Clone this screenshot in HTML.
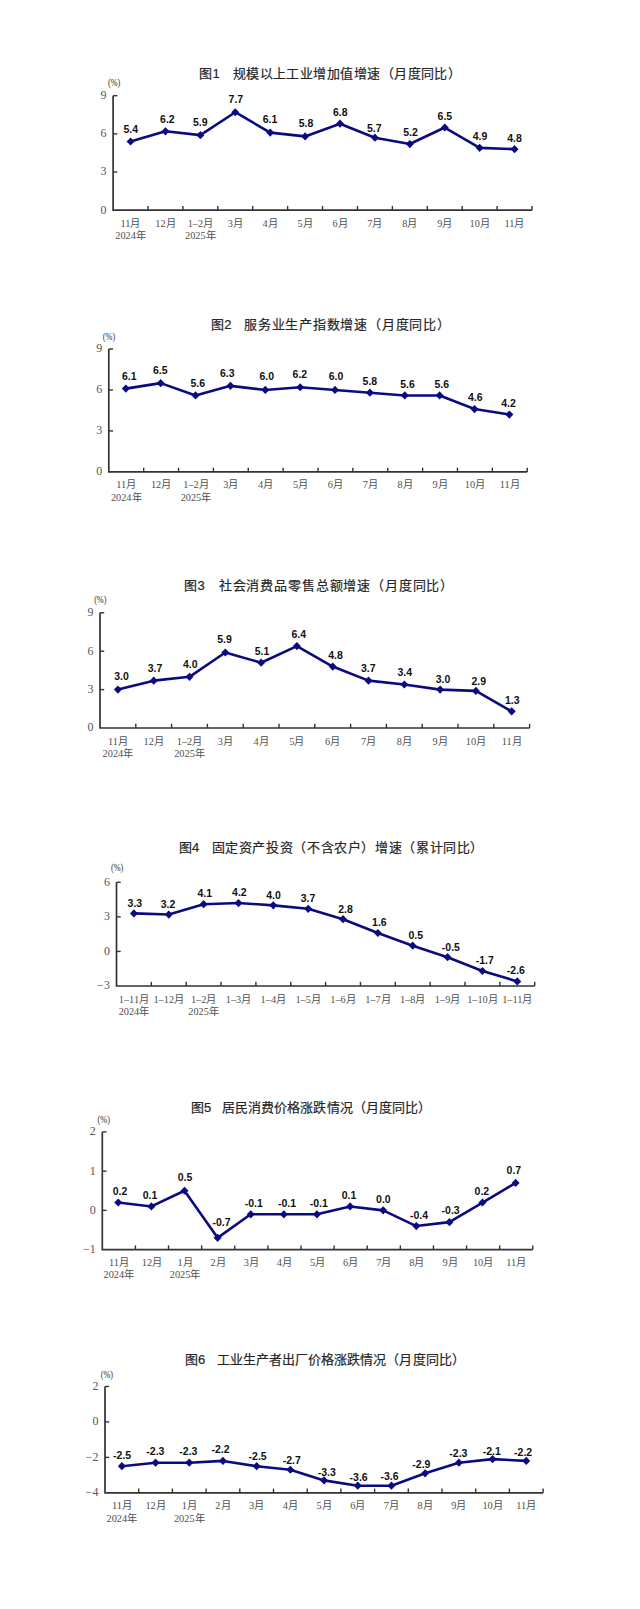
<!DOCTYPE html>
<html lang="zh-CN"><head><meta charset="utf-8"><title>charts</title>
<style>html,body{margin:0;padding:0;background:#fff;width:640px;height:1609px;overflow:hidden}svg{display:block}</style>
</head><body>
<svg width="640" height="1609" viewBox="0 0 640 1609">
<rect width="640" height="1609" fill="#fff"/>
<text x="199.40" y="77.80" font-family="'Liberation Sans', sans-serif" font-size="13" fill="#262626" stroke="#262626" stroke-width="0.2">图1</text>
<text x="232.60" y="77.80" font-family="'Liberation Sans', sans-serif" font-size="13" letter-spacing="0.46" fill="#262626" stroke="#262626" stroke-width="0.2">规模以上工业增加值增速（月度同比）</text>
<text x="114.20" y="86.30" text-anchor="middle" font-family="'Liberation Serif', serif" font-size="9.8" textLength="12.3" lengthAdjust="spacingAndGlyphs" fill="#555" stroke="#555" stroke-width="0.15">(%)</text>
<path d="M113.10 95.70V210.20H532.00" fill="none" stroke="#333333" stroke-width="1.7"/>
<text x="106.50" y="213.60" text-anchor="end" font-family="'Liberation Serif', serif" font-size="12" fill="#555555">0</text>
<path d="M113.10 172.03h4.2" stroke="#333333" stroke-width="1.4"/>
<text x="106.50" y="175.43" text-anchor="end" font-family="'Liberation Serif', serif" font-size="12" fill="#555555">3</text>
<path d="M113.10 133.87h4.2" stroke="#333333" stroke-width="1.4"/>
<text x="106.50" y="137.27" text-anchor="end" font-family="'Liberation Serif', serif" font-size="12" fill="#555555">6</text>
<path d="M113.10 95.70h4.2" stroke="#333333" stroke-width="1.4"/>
<text x="106.50" y="99.10" text-anchor="end" font-family="'Liberation Serif', serif" font-size="12" fill="#555555">9</text>
<path d="M148.01 210.20v-4.2" stroke="#333333" stroke-width="1.4"/>
<path d="M182.92 210.20v-4.2" stroke="#333333" stroke-width="1.4"/>
<path d="M217.82 210.20v-4.2" stroke="#333333" stroke-width="1.4"/>
<path d="M252.73 210.20v-4.2" stroke="#333333" stroke-width="1.4"/>
<path d="M287.64 210.20v-4.2" stroke="#333333" stroke-width="1.4"/>
<path d="M322.55 210.20v-4.2" stroke="#333333" stroke-width="1.4"/>
<path d="M357.46 210.20v-4.2" stroke="#333333" stroke-width="1.4"/>
<path d="M392.37 210.20v-4.2" stroke="#333333" stroke-width="1.4"/>
<path d="M427.27 210.20v-4.2" stroke="#333333" stroke-width="1.4"/>
<path d="M462.18 210.20v-4.2" stroke="#333333" stroke-width="1.4"/>
<path d="M497.09 210.20v-4.2" stroke="#333333" stroke-width="1.4"/>
<path d="M532.00 210.20v-4.2" stroke="#333333" stroke-width="1.4"/>
<text x="130.55" y="226.70" text-anchor="middle" font-family="'Liberation Serif', serif" font-size="10.3" fill="#505050">11月</text>
<text x="130.55" y="239.00" text-anchor="middle" font-family="'Liberation Serif', serif" font-size="10.3" fill="#505050">2024年</text>
<text x="165.46" y="226.70" text-anchor="middle" font-family="'Liberation Serif', serif" font-size="10.3" fill="#505050">12月</text>
<text x="200.37" y="226.70" text-anchor="middle" font-family="'Liberation Serif', serif" font-size="10.3" fill="#505050">1–2月</text>
<text x="200.37" y="239.00" text-anchor="middle" font-family="'Liberation Serif', serif" font-size="10.3" fill="#505050">2025年</text>
<text x="235.28" y="226.70" text-anchor="middle" font-family="'Liberation Serif', serif" font-size="10.3" fill="#505050">3月</text>
<text x="270.19" y="226.70" text-anchor="middle" font-family="'Liberation Serif', serif" font-size="10.3" fill="#505050">4月</text>
<text x="305.10" y="226.70" text-anchor="middle" font-family="'Liberation Serif', serif" font-size="10.3" fill="#505050">5月</text>
<text x="340.00" y="226.70" text-anchor="middle" font-family="'Liberation Serif', serif" font-size="10.3" fill="#505050">6月</text>
<text x="374.91" y="226.70" text-anchor="middle" font-family="'Liberation Serif', serif" font-size="10.3" fill="#505050">7月</text>
<text x="409.82" y="226.70" text-anchor="middle" font-family="'Liberation Serif', serif" font-size="10.3" fill="#505050">8月</text>
<text x="444.73" y="226.70" text-anchor="middle" font-family="'Liberation Serif', serif" font-size="10.3" fill="#505050">9月</text>
<text x="479.64" y="226.70" text-anchor="middle" font-family="'Liberation Serif', serif" font-size="10.3" fill="#505050">10月</text>
<text x="514.55" y="226.70" text-anchor="middle" font-family="'Liberation Serif', serif" font-size="10.3" fill="#505050">11月</text>
<path d="M130.55 141.50 L165.46 131.32 L200.37 135.14 L235.28 112.24 L270.19 132.59 L305.10 136.41 L340.00 123.69 L374.91 137.68 L409.82 144.04 L444.73 127.51 L479.64 147.86 L514.55 149.13" fill="none" stroke="#0b0b80" stroke-width="2.6" stroke-linejoin="round"/>
<path d="M130.55 137.40l4 4.1l-4 4.1l-4 -4.1z" fill="#0b0b80"/>
<path d="M165.46 127.22l4 4.1l-4 4.1l-4 -4.1z" fill="#0b0b80"/>
<path d="M200.37 131.04l4 4.1l-4 4.1l-4 -4.1z" fill="#0b0b80"/>
<path d="M235.28 108.14l4 4.1l-4 4.1l-4 -4.1z" fill="#0b0b80"/>
<path d="M270.19 128.49l4 4.1l-4 4.1l-4 -4.1z" fill="#0b0b80"/>
<path d="M305.10 132.31l4 4.1l-4 4.1l-4 -4.1z" fill="#0b0b80"/>
<path d="M340.00 119.59l4 4.1l-4 4.1l-4 -4.1z" fill="#0b0b80"/>
<path d="M374.91 133.58l4 4.1l-4 4.1l-4 -4.1z" fill="#0b0b80"/>
<path d="M409.82 139.94l4 4.1l-4 4.1l-4 -4.1z" fill="#0b0b80"/>
<path d="M444.73 123.41l4 4.1l-4 4.1l-4 -4.1z" fill="#0b0b80"/>
<path d="M479.64 143.76l4 4.1l-4 4.1l-4 -4.1z" fill="#0b0b80"/>
<path d="M514.55 145.03l4 4.1l-4 4.1l-4 -4.1z" fill="#0b0b80"/>
<text x="130.80" y="133.45" text-anchor="middle" font-family="'Liberation Sans', sans-serif" font-size="10.5" font-weight="bold" fill="#111">5.4</text>
<text x="167.40" y="122.60" text-anchor="middle" font-family="'Liberation Sans', sans-serif" font-size="10.5" font-weight="bold" fill="#111">6.2</text>
<text x="200.30" y="125.95" text-anchor="middle" font-family="'Liberation Sans', sans-serif" font-size="10.5" font-weight="bold" fill="#111">5.9</text>
<text x="235.90" y="103.10" text-anchor="middle" font-family="'Liberation Sans', sans-serif" font-size="10.5" font-weight="bold" fill="#111">7.7</text>
<text x="270.00" y="123.20" text-anchor="middle" font-family="'Liberation Sans', sans-serif" font-size="10.5" font-weight="bold" fill="#111">6.1</text>
<text x="306.10" y="126.95" text-anchor="middle" font-family="'Liberation Sans', sans-serif" font-size="10.5" font-weight="bold" fill="#111">5.8</text>
<text x="340.30" y="115.60" text-anchor="middle" font-family="'Liberation Sans', sans-serif" font-size="10.5" font-weight="bold" fill="#111">6.8</text>
<text x="374.20" y="131.60" text-anchor="middle" font-family="'Liberation Sans', sans-serif" font-size="10.5" font-weight="bold" fill="#111">5.7</text>
<text x="410.50" y="135.70" text-anchor="middle" font-family="'Liberation Sans', sans-serif" font-size="10.5" font-weight="bold" fill="#111">5.2</text>
<text x="444.90" y="119.95" text-anchor="middle" font-family="'Liberation Sans', sans-serif" font-size="10.5" font-weight="bold" fill="#111">6.5</text>
<text x="480.10" y="140.00" text-anchor="middle" font-family="'Liberation Sans', sans-serif" font-size="10.5" font-weight="bold" fill="#111">4.9</text>
<text x="514.50" y="141.90" text-anchor="middle" font-family="'Liberation Sans', sans-serif" font-size="10.5" font-weight="bold" fill="#111">4.8</text>
<text x="211.30" y="329.20" font-family="'Liberation Sans', sans-serif" font-size="13" fill="#262626" stroke="#262626" stroke-width="0.2">图2</text>
<text x="244.00" y="329.20" font-family="'Liberation Sans', sans-serif" font-size="13" letter-spacing="0.78" fill="#262626" stroke="#262626" stroke-width="0.2">服务业生产指数增速（月度同比）</text>
<text x="109.00" y="340.20" text-anchor="middle" font-family="'Liberation Serif', serif" font-size="9.8" textLength="12.3" lengthAdjust="spacingAndGlyphs" fill="#555" stroke="#555" stroke-width="0.15">(%)</text>
<path d="M108.80 349.00V471.90H527.20" fill="none" stroke="#333333" stroke-width="1.7"/>
<text x="102.20" y="475.30" text-anchor="end" font-family="'Liberation Serif', serif" font-size="12" fill="#555555">0</text>
<path d="M108.80 430.93h4.2" stroke="#333333" stroke-width="1.4"/>
<text x="102.20" y="434.33" text-anchor="end" font-family="'Liberation Serif', serif" font-size="12" fill="#555555">3</text>
<path d="M108.80 389.97h4.2" stroke="#333333" stroke-width="1.4"/>
<text x="102.20" y="393.37" text-anchor="end" font-family="'Liberation Serif', serif" font-size="12" fill="#555555">6</text>
<path d="M108.80 349.00h4.2" stroke="#333333" stroke-width="1.4"/>
<text x="102.20" y="352.40" text-anchor="end" font-family="'Liberation Serif', serif" font-size="12" fill="#555555">9</text>
<path d="M143.67 471.90v-4.2" stroke="#333333" stroke-width="1.4"/>
<path d="M178.53 471.90v-4.2" stroke="#333333" stroke-width="1.4"/>
<path d="M213.40 471.90v-4.2" stroke="#333333" stroke-width="1.4"/>
<path d="M248.27 471.90v-4.2" stroke="#333333" stroke-width="1.4"/>
<path d="M283.13 471.90v-4.2" stroke="#333333" stroke-width="1.4"/>
<path d="M318.00 471.90v-4.2" stroke="#333333" stroke-width="1.4"/>
<path d="M352.87 471.90v-4.2" stroke="#333333" stroke-width="1.4"/>
<path d="M387.73 471.90v-4.2" stroke="#333333" stroke-width="1.4"/>
<path d="M422.60 471.90v-4.2" stroke="#333333" stroke-width="1.4"/>
<path d="M457.47 471.90v-4.2" stroke="#333333" stroke-width="1.4"/>
<path d="M492.33 471.90v-4.2" stroke="#333333" stroke-width="1.4"/>
<path d="M527.20 471.90v-4.2" stroke="#333333" stroke-width="1.4"/>
<text x="126.23" y="488.40" text-anchor="middle" font-family="'Liberation Serif', serif" font-size="10.3" fill="#505050">11月</text>
<text x="126.23" y="500.70" text-anchor="middle" font-family="'Liberation Serif', serif" font-size="10.3" fill="#505050">2024年</text>
<text x="161.10" y="488.40" text-anchor="middle" font-family="'Liberation Serif', serif" font-size="10.3" fill="#505050">12月</text>
<text x="195.97" y="488.40" text-anchor="middle" font-family="'Liberation Serif', serif" font-size="10.3" fill="#505050">1–2月</text>
<text x="195.97" y="500.70" text-anchor="middle" font-family="'Liberation Serif', serif" font-size="10.3" fill="#505050">2025年</text>
<text x="230.83" y="488.40" text-anchor="middle" font-family="'Liberation Serif', serif" font-size="10.3" fill="#505050">3月</text>
<text x="265.70" y="488.40" text-anchor="middle" font-family="'Liberation Serif', serif" font-size="10.3" fill="#505050">4月</text>
<text x="300.57" y="488.40" text-anchor="middle" font-family="'Liberation Serif', serif" font-size="10.3" fill="#505050">5月</text>
<text x="335.43" y="488.40" text-anchor="middle" font-family="'Liberation Serif', serif" font-size="10.3" fill="#505050">6月</text>
<text x="370.30" y="488.40" text-anchor="middle" font-family="'Liberation Serif', serif" font-size="10.3" fill="#505050">7月</text>
<text x="405.17" y="488.40" text-anchor="middle" font-family="'Liberation Serif', serif" font-size="10.3" fill="#505050">8月</text>
<text x="440.03" y="488.40" text-anchor="middle" font-family="'Liberation Serif', serif" font-size="10.3" fill="#505050">9月</text>
<text x="474.90" y="488.40" text-anchor="middle" font-family="'Liberation Serif', serif" font-size="10.3" fill="#505050">10月</text>
<text x="509.77" y="488.40" text-anchor="middle" font-family="'Liberation Serif', serif" font-size="10.3" fill="#505050">11月</text>
<path d="M125.83 388.60 L160.70 383.14 L195.57 395.43 L230.43 385.87 L265.30 389.97 L300.17 387.24 L335.03 389.97 L369.90 392.70 L404.77 395.43 L439.63 395.43 L474.50 409.08 L509.37 414.55" fill="none" stroke="#0b0b80" stroke-width="2.6" stroke-linejoin="round"/>
<path d="M125.83 384.50l4 4.1l-4 4.1l-4 -4.1z" fill="#0b0b80"/>
<path d="M160.70 379.04l4 4.1l-4 4.1l-4 -4.1z" fill="#0b0b80"/>
<path d="M195.57 391.33l4 4.1l-4 4.1l-4 -4.1z" fill="#0b0b80"/>
<path d="M230.43 381.77l4 4.1l-4 4.1l-4 -4.1z" fill="#0b0b80"/>
<path d="M265.30 385.87l4 4.1l-4 4.1l-4 -4.1z" fill="#0b0b80"/>
<path d="M300.17 383.14l4 4.1l-4 4.1l-4 -4.1z" fill="#0b0b80"/>
<path d="M335.03 385.87l4 4.1l-4 4.1l-4 -4.1z" fill="#0b0b80"/>
<path d="M369.90 388.60l4 4.1l-4 4.1l-4 -4.1z" fill="#0b0b80"/>
<path d="M404.77 391.33l4 4.1l-4 4.1l-4 -4.1z" fill="#0b0b80"/>
<path d="M439.63 391.33l4 4.1l-4 4.1l-4 -4.1z" fill="#0b0b80"/>
<path d="M474.50 404.98l4 4.1l-4 4.1l-4 -4.1z" fill="#0b0b80"/>
<path d="M509.37 410.45l4 4.1l-4 4.1l-4 -4.1z" fill="#0b0b80"/>
<text x="129.35" y="379.95" text-anchor="middle" font-family="'Liberation Sans', sans-serif" font-size="10.5" font-weight="bold" fill="#111">6.1</text>
<text x="160.30" y="374.30" text-anchor="middle" font-family="'Liberation Sans', sans-serif" font-size="10.5" font-weight="bold" fill="#111">6.5</text>
<text x="197.80" y="387.45" text-anchor="middle" font-family="'Liberation Sans', sans-serif" font-size="10.5" font-weight="bold" fill="#111">5.6</text>
<text x="227.20" y="376.80" text-anchor="middle" font-family="'Liberation Sans', sans-serif" font-size="10.5" font-weight="bold" fill="#111">6.3</text>
<text x="266.70" y="380.00" text-anchor="middle" font-family="'Liberation Sans', sans-serif" font-size="10.5" font-weight="bold" fill="#111">6.0</text>
<text x="299.90" y="378.10" text-anchor="middle" font-family="'Liberation Sans', sans-serif" font-size="10.5" font-weight="bold" fill="#111">6.2</text>
<text x="336.00" y="380.30" text-anchor="middle" font-family="'Liberation Sans', sans-serif" font-size="10.5" font-weight="bold" fill="#111">6.0</text>
<text x="369.90" y="384.60" text-anchor="middle" font-family="'Liberation Sans', sans-serif" font-size="10.5" font-weight="bold" fill="#111">5.8</text>
<text x="407.60" y="387.80" text-anchor="middle" font-family="'Liberation Sans', sans-serif" font-size="10.5" font-weight="bold" fill="#111">5.6</text>
<text x="441.80" y="387.60" text-anchor="middle" font-family="'Liberation Sans', sans-serif" font-size="10.5" font-weight="bold" fill="#111">5.6</text>
<text x="475.30" y="400.90" text-anchor="middle" font-family="'Liberation Sans', sans-serif" font-size="10.5" font-weight="bold" fill="#111">4.6</text>
<text x="508.50" y="407.45" text-anchor="middle" font-family="'Liberation Sans', sans-serif" font-size="10.5" font-weight="bold" fill="#111">4.2</text>
<text x="184.40" y="589.85" font-family="'Liberation Sans', sans-serif" font-size="13" fill="#262626" stroke="#262626" stroke-width="0.2">图3</text>
<text x="218.80" y="589.85" font-family="'Liberation Sans', sans-serif" font-size="13" letter-spacing="0.84" fill="#262626" stroke="#262626" stroke-width="0.2">社会消费品零售总额增速（月度同比）</text>
<text x="100.30" y="603.30" text-anchor="middle" font-family="'Liberation Serif', serif" font-size="9.8" textLength="12.3" lengthAdjust="spacingAndGlyphs" fill="#555" stroke="#555" stroke-width="0.15">(%)</text>
<path d="M100.00 612.80V728.00H529.60" fill="none" stroke="#333333" stroke-width="1.7"/>
<text x="93.40" y="731.40" text-anchor="end" font-family="'Liberation Serif', serif" font-size="12" fill="#555555">0</text>
<path d="M100.00 689.60h4.2" stroke="#333333" stroke-width="1.4"/>
<text x="93.40" y="693.00" text-anchor="end" font-family="'Liberation Serif', serif" font-size="12" fill="#555555">3</text>
<path d="M100.00 651.20h4.2" stroke="#333333" stroke-width="1.4"/>
<text x="93.40" y="654.60" text-anchor="end" font-family="'Liberation Serif', serif" font-size="12" fill="#555555">6</text>
<path d="M100.00 612.80h4.2" stroke="#333333" stroke-width="1.4"/>
<text x="93.40" y="616.20" text-anchor="end" font-family="'Liberation Serif', serif" font-size="12" fill="#555555">9</text>
<path d="M135.80 728.00v-4.2" stroke="#333333" stroke-width="1.4"/>
<path d="M171.60 728.00v-4.2" stroke="#333333" stroke-width="1.4"/>
<path d="M207.40 728.00v-4.2" stroke="#333333" stroke-width="1.4"/>
<path d="M243.20 728.00v-4.2" stroke="#333333" stroke-width="1.4"/>
<path d="M279.00 728.00v-4.2" stroke="#333333" stroke-width="1.4"/>
<path d="M314.80 728.00v-4.2" stroke="#333333" stroke-width="1.4"/>
<path d="M350.60 728.00v-4.2" stroke="#333333" stroke-width="1.4"/>
<path d="M386.40 728.00v-4.2" stroke="#333333" stroke-width="1.4"/>
<path d="M422.20 728.00v-4.2" stroke="#333333" stroke-width="1.4"/>
<path d="M458.00 728.00v-4.2" stroke="#333333" stroke-width="1.4"/>
<path d="M493.80 728.00v-4.2" stroke="#333333" stroke-width="1.4"/>
<path d="M529.60 728.00v-4.2" stroke="#333333" stroke-width="1.4"/>
<text x="117.90" y="744.50" text-anchor="middle" font-family="'Liberation Serif', serif" font-size="10.3" fill="#505050">11月</text>
<text x="117.90" y="756.80" text-anchor="middle" font-family="'Liberation Serif', serif" font-size="10.3" fill="#505050">2024年</text>
<text x="153.70" y="744.50" text-anchor="middle" font-family="'Liberation Serif', serif" font-size="10.3" fill="#505050">12月</text>
<text x="189.50" y="744.50" text-anchor="middle" font-family="'Liberation Serif', serif" font-size="10.3" fill="#505050">1–2月</text>
<text x="189.50" y="756.80" text-anchor="middle" font-family="'Liberation Serif', serif" font-size="10.3" fill="#505050">2025年</text>
<text x="225.30" y="744.50" text-anchor="middle" font-family="'Liberation Serif', serif" font-size="10.3" fill="#505050">3月</text>
<text x="261.10" y="744.50" text-anchor="middle" font-family="'Liberation Serif', serif" font-size="10.3" fill="#505050">4月</text>
<text x="296.90" y="744.50" text-anchor="middle" font-family="'Liberation Serif', serif" font-size="10.3" fill="#505050">5月</text>
<text x="332.70" y="744.50" text-anchor="middle" font-family="'Liberation Serif', serif" font-size="10.3" fill="#505050">6月</text>
<text x="368.50" y="744.50" text-anchor="middle" font-family="'Liberation Serif', serif" font-size="10.3" fill="#505050">7月</text>
<text x="404.30" y="744.50" text-anchor="middle" font-family="'Liberation Serif', serif" font-size="10.3" fill="#505050">8月</text>
<text x="440.10" y="744.50" text-anchor="middle" font-family="'Liberation Serif', serif" font-size="10.3" fill="#505050">9月</text>
<text x="475.90" y="744.50" text-anchor="middle" font-family="'Liberation Serif', serif" font-size="10.3" fill="#505050">10月</text>
<text x="511.70" y="744.50" text-anchor="middle" font-family="'Liberation Serif', serif" font-size="10.3" fill="#505050">11月</text>
<path d="M117.90 689.60 L153.70 680.64 L189.50 676.80 L225.30 652.48 L261.10 662.72 L296.90 646.08 L332.70 666.56 L368.50 680.64 L404.30 684.48 L440.10 689.60 L475.90 690.88 L511.70 711.36" fill="none" stroke="#0b0b80" stroke-width="2.6" stroke-linejoin="round"/>
<path d="M117.90 685.50l4 4.1l-4 4.1l-4 -4.1z" fill="#0b0b80"/>
<path d="M153.70 676.54l4 4.1l-4 4.1l-4 -4.1z" fill="#0b0b80"/>
<path d="M189.50 672.70l4 4.1l-4 4.1l-4 -4.1z" fill="#0b0b80"/>
<path d="M225.30 648.38l4 4.1l-4 4.1l-4 -4.1z" fill="#0b0b80"/>
<path d="M261.10 658.62l4 4.1l-4 4.1l-4 -4.1z" fill="#0b0b80"/>
<path d="M296.90 641.98l4 4.1l-4 4.1l-4 -4.1z" fill="#0b0b80"/>
<path d="M332.70 662.46l4 4.1l-4 4.1l-4 -4.1z" fill="#0b0b80"/>
<path d="M368.50 676.54l4 4.1l-4 4.1l-4 -4.1z" fill="#0b0b80"/>
<path d="M404.30 680.38l4 4.1l-4 4.1l-4 -4.1z" fill="#0b0b80"/>
<path d="M440.10 685.50l4 4.1l-4 4.1l-4 -4.1z" fill="#0b0b80"/>
<path d="M475.90 686.78l4 4.1l-4 4.1l-4 -4.1z" fill="#0b0b80"/>
<path d="M511.70 707.26l4 4.1l-4 4.1l-4 -4.1z" fill="#0b0b80"/>
<text x="121.50" y="680.30" text-anchor="middle" font-family="'Liberation Sans', sans-serif" font-size="10.5" font-weight="bold" fill="#111">3.0</text>
<text x="155.00" y="672.45" text-anchor="middle" font-family="'Liberation Sans', sans-serif" font-size="10.5" font-weight="bold" fill="#111">3.7</text>
<text x="190.30" y="668.10" text-anchor="middle" font-family="'Liberation Sans', sans-serif" font-size="10.5" font-weight="bold" fill="#111">4.0</text>
<text x="224.50" y="643.45" text-anchor="middle" font-family="'Liberation Sans', sans-serif" font-size="10.5" font-weight="bold" fill="#111">5.9</text>
<text x="262.00" y="654.70" text-anchor="middle" font-family="'Liberation Sans', sans-serif" font-size="10.5" font-weight="bold" fill="#111">5.1</text>
<text x="298.70" y="637.80" text-anchor="middle" font-family="'Liberation Sans', sans-serif" font-size="10.5" font-weight="bold" fill="#111">6.4</text>
<text x="335.60" y="659.40" text-anchor="middle" font-family="'Liberation Sans', sans-serif" font-size="10.5" font-weight="bold" fill="#111">4.8</text>
<text x="368.30" y="671.60" text-anchor="middle" font-family="'Liberation Sans', sans-serif" font-size="10.5" font-weight="bold" fill="#111">3.7</text>
<text x="404.70" y="676.30" text-anchor="middle" font-family="'Liberation Sans', sans-serif" font-size="10.5" font-weight="bold" fill="#111">3.4</text>
<text x="443.05" y="683.45" text-anchor="middle" font-family="'Liberation Sans', sans-serif" font-size="10.5" font-weight="bold" fill="#111">3.0</text>
<text x="478.70" y="684.95" text-anchor="middle" font-family="'Liberation Sans', sans-serif" font-size="10.5" font-weight="bold" fill="#111">2.9</text>
<text x="512.20" y="703.70" text-anchor="middle" font-family="'Liberation Sans', sans-serif" font-size="10.5" font-weight="bold" fill="#111">1.3</text>
<text x="178.90" y="851.60" font-family="'Liberation Sans', sans-serif" font-size="13" fill="#262626" stroke="#262626" stroke-width="0.2">图4</text>
<text x="211.60" y="851.60" font-family="'Liberation Sans', sans-serif" font-size="13" letter-spacing="0.62" fill="#262626" stroke="#262626" stroke-width="0.2">固定资产投资（不含农户）增速（累计同比）</text>
<text x="117.20" y="871.40" text-anchor="middle" font-family="'Liberation Serif', serif" font-size="9.8" textLength="12.3" lengthAdjust="spacingAndGlyphs" fill="#555" stroke="#555" stroke-width="0.15">(%)</text>
<path d="M116.50 882.30V986.00H534.70" fill="none" stroke="#333333" stroke-width="1.7"/>
<text x="109.90" y="989.40" text-anchor="end" font-family="'Liberation Serif', serif" font-size="12" fill="#555555">−3</text>
<path d="M116.50 951.43h4.2" stroke="#333333" stroke-width="1.4"/>
<text x="109.90" y="954.83" text-anchor="end" font-family="'Liberation Serif', serif" font-size="12" fill="#555555">0</text>
<path d="M116.50 916.87h4.2" stroke="#333333" stroke-width="1.4"/>
<text x="109.90" y="920.27" text-anchor="end" font-family="'Liberation Serif', serif" font-size="12" fill="#555555">3</text>
<path d="M116.50 882.30h4.2" stroke="#333333" stroke-width="1.4"/>
<text x="109.90" y="885.70" text-anchor="end" font-family="'Liberation Serif', serif" font-size="12" fill="#555555">6</text>
<path d="M151.35 986.00v-4.2" stroke="#333333" stroke-width="1.4"/>
<path d="M186.20 986.00v-4.2" stroke="#333333" stroke-width="1.4"/>
<path d="M221.05 986.00v-4.2" stroke="#333333" stroke-width="1.4"/>
<path d="M255.90 986.00v-4.2" stroke="#333333" stroke-width="1.4"/>
<path d="M290.75 986.00v-4.2" stroke="#333333" stroke-width="1.4"/>
<path d="M325.60 986.00v-4.2" stroke="#333333" stroke-width="1.4"/>
<path d="M360.45 986.00v-4.2" stroke="#333333" stroke-width="1.4"/>
<path d="M395.30 986.00v-4.2" stroke="#333333" stroke-width="1.4"/>
<path d="M430.15 986.00v-4.2" stroke="#333333" stroke-width="1.4"/>
<path d="M465.00 986.00v-4.2" stroke="#333333" stroke-width="1.4"/>
<path d="M499.85 986.00v-4.2" stroke="#333333" stroke-width="1.4"/>
<path d="M534.70 986.00v-4.2" stroke="#333333" stroke-width="1.4"/>
<text x="133.93" y="1002.50" text-anchor="middle" font-family="'Liberation Serif', serif" font-size="10.3" fill="#505050">1–11月</text>
<text x="133.93" y="1014.80" text-anchor="middle" font-family="'Liberation Serif', serif" font-size="10.3" fill="#505050">2024年</text>
<text x="168.78" y="1002.50" text-anchor="middle" font-family="'Liberation Serif', serif" font-size="10.3" fill="#505050">1–12月</text>
<text x="203.62" y="1002.50" text-anchor="middle" font-family="'Liberation Serif', serif" font-size="10.3" fill="#505050">1–2月</text>
<text x="203.62" y="1014.80" text-anchor="middle" font-family="'Liberation Serif', serif" font-size="10.3" fill="#505050">2025年</text>
<text x="238.48" y="1002.50" text-anchor="middle" font-family="'Liberation Serif', serif" font-size="10.3" fill="#505050">1–3月</text>
<text x="273.33" y="1002.50" text-anchor="middle" font-family="'Liberation Serif', serif" font-size="10.3" fill="#505050">1–4月</text>
<text x="308.18" y="1002.50" text-anchor="middle" font-family="'Liberation Serif', serif" font-size="10.3" fill="#505050">1–5月</text>
<text x="343.02" y="1002.50" text-anchor="middle" font-family="'Liberation Serif', serif" font-size="10.3" fill="#505050">1–6月</text>
<text x="377.88" y="1002.50" text-anchor="middle" font-family="'Liberation Serif', serif" font-size="10.3" fill="#505050">1–7月</text>
<text x="412.73" y="1002.50" text-anchor="middle" font-family="'Liberation Serif', serif" font-size="10.3" fill="#505050">1–8月</text>
<text x="447.57" y="1002.50" text-anchor="middle" font-family="'Liberation Serif', serif" font-size="10.3" fill="#505050">1–9月</text>
<text x="482.43" y="1002.50" text-anchor="middle" font-family="'Liberation Serif', serif" font-size="10.3" fill="#505050">1–10月</text>
<text x="517.28" y="1002.50" text-anchor="middle" font-family="'Liberation Serif', serif" font-size="10.3" fill="#505050">1–11月</text>
<path d="M133.93 913.41 L168.78 914.56 L203.62 904.19 L238.48 903.04 L273.33 905.34 L308.18 908.80 L343.02 919.17 L377.88 933.00 L412.73 945.67 L447.57 957.19 L482.43 971.02 L517.28 981.39" fill="none" stroke="#0b0b80" stroke-width="2.6" stroke-linejoin="round"/>
<path d="M133.93 909.31l4 4.1l-4 4.1l-4 -4.1z" fill="#0b0b80"/>
<path d="M168.78 910.46l4 4.1l-4 4.1l-4 -4.1z" fill="#0b0b80"/>
<path d="M203.62 900.09l4 4.1l-4 4.1l-4 -4.1z" fill="#0b0b80"/>
<path d="M238.48 898.94l4 4.1l-4 4.1l-4 -4.1z" fill="#0b0b80"/>
<path d="M273.33 901.24l4 4.1l-4 4.1l-4 -4.1z" fill="#0b0b80"/>
<path d="M308.18 904.70l4 4.1l-4 4.1l-4 -4.1z" fill="#0b0b80"/>
<path d="M343.02 915.07l4 4.1l-4 4.1l-4 -4.1z" fill="#0b0b80"/>
<path d="M377.88 928.90l4 4.1l-4 4.1l-4 -4.1z" fill="#0b0b80"/>
<path d="M412.73 941.57l4 4.1l-4 4.1l-4 -4.1z" fill="#0b0b80"/>
<path d="M447.57 953.09l4 4.1l-4 4.1l-4 -4.1z" fill="#0b0b80"/>
<path d="M482.43 966.92l4 4.1l-4 4.1l-4 -4.1z" fill="#0b0b80"/>
<path d="M517.28 977.29l4 4.1l-4 4.1l-4 -4.1z" fill="#0b0b80"/>
<text x="134.90" y="907.20" text-anchor="middle" font-family="'Liberation Sans', sans-serif" font-size="10.5" font-weight="bold" fill="#111">3.3</text>
<text x="168.10" y="907.60" text-anchor="middle" font-family="'Liberation Sans', sans-serif" font-size="10.5" font-weight="bold" fill="#111">3.2</text>
<text x="204.70" y="897.45" text-anchor="middle" font-family="'Liberation Sans', sans-serif" font-size="10.5" font-weight="bold" fill="#111">4.1</text>
<text x="239.40" y="895.60" text-anchor="middle" font-family="'Liberation Sans', sans-serif" font-size="10.5" font-weight="bold" fill="#111">4.2</text>
<text x="273.50" y="899.40" text-anchor="middle" font-family="'Liberation Sans', sans-serif" font-size="10.5" font-weight="bold" fill="#111">4.0</text>
<text x="308.05" y="902.20" text-anchor="middle" font-family="'Liberation Sans', sans-serif" font-size="10.5" font-weight="bold" fill="#111">3.7</text>
<text x="345.60" y="912.50" text-anchor="middle" font-family="'Liberation Sans', sans-serif" font-size="10.5" font-weight="bold" fill="#111">2.8</text>
<text x="379.40" y="926.20" text-anchor="middle" font-family="'Liberation Sans', sans-serif" font-size="10.5" font-weight="bold" fill="#111">1.6</text>
<text x="415.70" y="939.30" text-anchor="middle" font-family="'Liberation Sans', sans-serif" font-size="10.5" font-weight="bold" fill="#111">0.5</text>
<text x="450.90" y="950.70" text-anchor="middle" font-family="'Liberation Sans', sans-serif" font-size="10.5" font-weight="bold" fill="#111">-0.5</text>
<text x="484.70" y="964.40" text-anchor="middle" font-family="'Liberation Sans', sans-serif" font-size="10.5" font-weight="bold" fill="#111">-1.7</text>
<text x="515.90" y="974.30" text-anchor="middle" font-family="'Liberation Sans', sans-serif" font-size="10.5" font-weight="bold" fill="#111">-2.6</text>
<text x="191.00" y="1111.50" font-family="'Liberation Sans', sans-serif" font-size="13" fill="#262626" stroke="#262626" stroke-width="0.2">图5</text>
<text x="221.80" y="1111.50" font-family="'Liberation Sans', sans-serif" font-size="13" letter-spacing="0.1" fill="#262626" stroke="#262626" stroke-width="0.2">居民消费价格涨跌情况（月度同比）</text>
<text x="103.75" y="1122.70" text-anchor="middle" font-family="'Liberation Serif', serif" font-size="9.8" textLength="12.3" lengthAdjust="spacingAndGlyphs" fill="#555" stroke="#555" stroke-width="0.15">(%)</text>
<path d="M102.30 1131.90V1249.60H532.80" fill="none" stroke="#333333" stroke-width="1.7"/>
<text x="95.70" y="1253.00" text-anchor="end" font-family="'Liberation Serif', serif" font-size="12" fill="#555555">−1</text>
<path d="M102.30 1210.37h4.2" stroke="#333333" stroke-width="1.4"/>
<text x="95.70" y="1213.77" text-anchor="end" font-family="'Liberation Serif', serif" font-size="12" fill="#555555">0</text>
<path d="M102.30 1171.13h4.2" stroke="#333333" stroke-width="1.4"/>
<text x="95.70" y="1174.53" text-anchor="end" font-family="'Liberation Serif', serif" font-size="12" fill="#555555">1</text>
<path d="M102.30 1131.90h4.2" stroke="#333333" stroke-width="1.4"/>
<text x="95.70" y="1135.30" text-anchor="end" font-family="'Liberation Serif', serif" font-size="12" fill="#555555">2</text>
<path d="M135.42 1249.60v-4.2" stroke="#333333" stroke-width="1.4"/>
<path d="M168.53 1249.60v-4.2" stroke="#333333" stroke-width="1.4"/>
<path d="M201.65 1249.60v-4.2" stroke="#333333" stroke-width="1.4"/>
<path d="M234.76 1249.60v-4.2" stroke="#333333" stroke-width="1.4"/>
<path d="M267.88 1249.60v-4.2" stroke="#333333" stroke-width="1.4"/>
<path d="M300.99 1249.60v-4.2" stroke="#333333" stroke-width="1.4"/>
<path d="M334.11 1249.60v-4.2" stroke="#333333" stroke-width="1.4"/>
<path d="M367.22 1249.60v-4.2" stroke="#333333" stroke-width="1.4"/>
<path d="M400.34 1249.60v-4.2" stroke="#333333" stroke-width="1.4"/>
<path d="M433.45 1249.60v-4.2" stroke="#333333" stroke-width="1.4"/>
<path d="M466.57 1249.60v-4.2" stroke="#333333" stroke-width="1.4"/>
<path d="M499.68 1249.60v-4.2" stroke="#333333" stroke-width="1.4"/>
<path d="M532.80 1249.60v-4.2" stroke="#333333" stroke-width="1.4"/>
<text x="118.86" y="1266.10" text-anchor="middle" font-family="'Liberation Serif', serif" font-size="10.3" fill="#505050">11月</text>
<text x="118.86" y="1278.40" text-anchor="middle" font-family="'Liberation Serif', serif" font-size="10.3" fill="#505050">2024年</text>
<text x="151.97" y="1266.10" text-anchor="middle" font-family="'Liberation Serif', serif" font-size="10.3" fill="#505050">12月</text>
<text x="185.09" y="1266.10" text-anchor="middle" font-family="'Liberation Serif', serif" font-size="10.3" fill="#505050">1月</text>
<text x="185.09" y="1278.40" text-anchor="middle" font-family="'Liberation Serif', serif" font-size="10.3" fill="#505050">2025年</text>
<text x="218.20" y="1266.10" text-anchor="middle" font-family="'Liberation Serif', serif" font-size="10.3" fill="#505050">2月</text>
<text x="251.32" y="1266.10" text-anchor="middle" font-family="'Liberation Serif', serif" font-size="10.3" fill="#505050">3月</text>
<text x="284.43" y="1266.10" text-anchor="middle" font-family="'Liberation Serif', serif" font-size="10.3" fill="#505050">4月</text>
<text x="317.55" y="1266.10" text-anchor="middle" font-family="'Liberation Serif', serif" font-size="10.3" fill="#505050">5月</text>
<text x="350.67" y="1266.10" text-anchor="middle" font-family="'Liberation Serif', serif" font-size="10.3" fill="#505050">6月</text>
<text x="383.78" y="1266.10" text-anchor="middle" font-family="'Liberation Serif', serif" font-size="10.3" fill="#505050">7月</text>
<text x="416.90" y="1266.10" text-anchor="middle" font-family="'Liberation Serif', serif" font-size="10.3" fill="#505050">8月</text>
<text x="450.01" y="1266.10" text-anchor="middle" font-family="'Liberation Serif', serif" font-size="10.3" fill="#505050">9月</text>
<text x="483.13" y="1266.10" text-anchor="middle" font-family="'Liberation Serif', serif" font-size="10.3" fill="#505050">10月</text>
<text x="516.24" y="1266.10" text-anchor="middle" font-family="'Liberation Serif', serif" font-size="10.3" fill="#505050">11月</text>
<path d="M118.26 1202.52 L151.37 1206.44 L184.49 1190.75 L217.60 1237.83 L250.72 1214.29 L283.83 1214.29 L316.95 1214.29 L350.07 1206.44 L383.18 1210.37 L416.30 1226.06 L449.41 1222.14 L482.53 1202.52 L515.64 1182.90" fill="none" stroke="#0b0b80" stroke-width="2.6" stroke-linejoin="round"/>
<path d="M118.26 1198.42l4 4.1l-4 4.1l-4 -4.1z" fill="#0b0b80"/>
<path d="M151.37 1202.34l4 4.1l-4 4.1l-4 -4.1z" fill="#0b0b80"/>
<path d="M184.49 1186.65l4 4.1l-4 4.1l-4 -4.1z" fill="#0b0b80"/>
<path d="M217.60 1233.73l4 4.1l-4 4.1l-4 -4.1z" fill="#0b0b80"/>
<path d="M250.72 1210.19l4 4.1l-4 4.1l-4 -4.1z" fill="#0b0b80"/>
<path d="M283.83 1210.19l4 4.1l-4 4.1l-4 -4.1z" fill="#0b0b80"/>
<path d="M316.95 1210.19l4 4.1l-4 4.1l-4 -4.1z" fill="#0b0b80"/>
<path d="M350.07 1202.34l4 4.1l-4 4.1l-4 -4.1z" fill="#0b0b80"/>
<path d="M383.18 1206.27l4 4.1l-4 4.1l-4 -4.1z" fill="#0b0b80"/>
<path d="M416.30 1221.96l4 4.1l-4 4.1l-4 -4.1z" fill="#0b0b80"/>
<path d="M449.41 1218.04l4 4.1l-4 4.1l-4 -4.1z" fill="#0b0b80"/>
<path d="M482.53 1198.42l4 4.1l-4 4.1l-4 -4.1z" fill="#0b0b80"/>
<path d="M515.64 1178.80l4 4.1l-4 4.1l-4 -4.1z" fill="#0b0b80"/>
<text x="120.10" y="1194.95" text-anchor="middle" font-family="'Liberation Sans', sans-serif" font-size="10.5" font-weight="bold" fill="#111">0.2</text>
<text x="150.05" y="1198.70" text-anchor="middle" font-family="'Liberation Sans', sans-serif" font-size="10.5" font-weight="bold" fill="#111">0.1</text>
<text x="185.00" y="1181.30" text-anchor="middle" font-family="'Liberation Sans', sans-serif" font-size="10.5" font-weight="bold" fill="#111">0.5</text>
<text x="221.50" y="1225.80" text-anchor="middle" font-family="'Liberation Sans', sans-serif" font-size="10.5" font-weight="bold" fill="#111">-0.7</text>
<text x="253.70" y="1206.80" text-anchor="middle" font-family="'Liberation Sans', sans-serif" font-size="10.5" font-weight="bold" fill="#111">-0.1</text>
<text x="287.00" y="1206.80" text-anchor="middle" font-family="'Liberation Sans', sans-serif" font-size="10.5" font-weight="bold" fill="#111">-0.1</text>
<text x="318.70" y="1206.80" text-anchor="middle" font-family="'Liberation Sans', sans-serif" font-size="10.5" font-weight="bold" fill="#111">-0.1</text>
<text x="349.05" y="1198.70" text-anchor="middle" font-family="'Liberation Sans', sans-serif" font-size="10.5" font-weight="bold" fill="#111">0.1</text>
<text x="383.40" y="1203.20" text-anchor="middle" font-family="'Liberation Sans', sans-serif" font-size="10.5" font-weight="bold" fill="#111">0.0</text>
<text x="419.00" y="1218.80" text-anchor="middle" font-family="'Liberation Sans', sans-serif" font-size="10.5" font-weight="bold" fill="#111">-0.4</text>
<text x="450.60" y="1214.45" text-anchor="middle" font-family="'Liberation Sans', sans-serif" font-size="10.5" font-weight="bold" fill="#111">-0.3</text>
<text x="481.90" y="1194.70" text-anchor="middle" font-family="'Liberation Sans', sans-serif" font-size="10.5" font-weight="bold" fill="#111">0.2</text>
<text x="513.90" y="1174.45" text-anchor="middle" font-family="'Liberation Sans', sans-serif" font-size="10.5" font-weight="bold" fill="#111">0.7</text>
<text x="185.00" y="1363.85" font-family="'Liberation Sans', sans-serif" font-size="13" fill="#262626" stroke="#262626" stroke-width="0.2">图6</text>
<text x="216.80" y="1363.85" font-family="'Liberation Sans', sans-serif" font-size="13" letter-spacing="0.05" fill="#262626" stroke="#262626" stroke-width="0.2">工业生产者出厂价格涨跌情况（月度同比）</text>
<text x="106.90" y="1378.00" text-anchor="middle" font-family="'Liberation Serif', serif" font-size="9.8" textLength="12.3" lengthAdjust="spacingAndGlyphs" fill="#555" stroke="#555" stroke-width="0.15">(%)</text>
<path d="M105.00 1386.50V1492.80H543.10" fill="none" stroke="#333333" stroke-width="1.7"/>
<text x="98.40" y="1496.20" text-anchor="end" font-family="'Liberation Serif', serif" font-size="12" fill="#555555">−4</text>
<path d="M105.00 1457.37h4.2" stroke="#333333" stroke-width="1.4"/>
<text x="98.40" y="1460.77" text-anchor="end" font-family="'Liberation Serif', serif" font-size="12" fill="#555555">−2</text>
<path d="M105.00 1421.93h4.2" stroke="#333333" stroke-width="1.4"/>
<text x="98.40" y="1425.33" text-anchor="end" font-family="'Liberation Serif', serif" font-size="12" fill="#555555">0</text>
<path d="M105.00 1386.50h4.2" stroke="#333333" stroke-width="1.4"/>
<text x="98.40" y="1389.90" text-anchor="end" font-family="'Liberation Serif', serif" font-size="12" fill="#555555">2</text>
<path d="M138.70 1492.80v-4.2" stroke="#333333" stroke-width="1.4"/>
<path d="M172.40 1492.80v-4.2" stroke="#333333" stroke-width="1.4"/>
<path d="M206.10 1492.80v-4.2" stroke="#333333" stroke-width="1.4"/>
<path d="M239.80 1492.80v-4.2" stroke="#333333" stroke-width="1.4"/>
<path d="M273.50 1492.80v-4.2" stroke="#333333" stroke-width="1.4"/>
<path d="M307.20 1492.80v-4.2" stroke="#333333" stroke-width="1.4"/>
<path d="M340.90 1492.80v-4.2" stroke="#333333" stroke-width="1.4"/>
<path d="M374.60 1492.80v-4.2" stroke="#333333" stroke-width="1.4"/>
<path d="M408.30 1492.80v-4.2" stroke="#333333" stroke-width="1.4"/>
<path d="M442.00 1492.80v-4.2" stroke="#333333" stroke-width="1.4"/>
<path d="M475.70 1492.80v-4.2" stroke="#333333" stroke-width="1.4"/>
<path d="M509.40 1492.80v-4.2" stroke="#333333" stroke-width="1.4"/>
<path d="M543.10 1492.80v-4.2" stroke="#333333" stroke-width="1.4"/>
<text x="121.85" y="1509.30" text-anchor="middle" font-family="'Liberation Serif', serif" font-size="10.3" fill="#505050">11月</text>
<text x="121.85" y="1521.60" text-anchor="middle" font-family="'Liberation Serif', serif" font-size="10.3" fill="#505050">2024年</text>
<text x="155.55" y="1509.30" text-anchor="middle" font-family="'Liberation Serif', serif" font-size="10.3" fill="#505050">12月</text>
<text x="189.25" y="1509.30" text-anchor="middle" font-family="'Liberation Serif', serif" font-size="10.3" fill="#505050">1月</text>
<text x="189.25" y="1521.60" text-anchor="middle" font-family="'Liberation Serif', serif" font-size="10.3" fill="#505050">2025年</text>
<text x="222.95" y="1509.30" text-anchor="middle" font-family="'Liberation Serif', serif" font-size="10.3" fill="#505050">2月</text>
<text x="256.65" y="1509.30" text-anchor="middle" font-family="'Liberation Serif', serif" font-size="10.3" fill="#505050">3月</text>
<text x="290.35" y="1509.30" text-anchor="middle" font-family="'Liberation Serif', serif" font-size="10.3" fill="#505050">4月</text>
<text x="324.05" y="1509.30" text-anchor="middle" font-family="'Liberation Serif', serif" font-size="10.3" fill="#505050">5月</text>
<text x="357.75" y="1509.30" text-anchor="middle" font-family="'Liberation Serif', serif" font-size="10.3" fill="#505050">6月</text>
<text x="391.45" y="1509.30" text-anchor="middle" font-family="'Liberation Serif', serif" font-size="10.3" fill="#505050">7月</text>
<text x="425.15" y="1509.30" text-anchor="middle" font-family="'Liberation Serif', serif" font-size="10.3" fill="#505050">8月</text>
<text x="458.85" y="1509.30" text-anchor="middle" font-family="'Liberation Serif', serif" font-size="10.3" fill="#505050">9月</text>
<text x="492.55" y="1509.30" text-anchor="middle" font-family="'Liberation Serif', serif" font-size="10.3" fill="#505050">10月</text>
<text x="526.25" y="1509.30" text-anchor="middle" font-family="'Liberation Serif', serif" font-size="10.3" fill="#505050">11月</text>
<path d="M121.85 1466.22 L155.55 1462.68 L189.25 1462.68 L222.95 1460.91 L256.65 1466.22 L290.35 1469.77 L324.05 1480.40 L357.75 1485.71 L391.45 1485.71 L425.15 1473.31 L458.85 1462.68 L492.55 1459.14 L526.25 1460.91" fill="none" stroke="#0b0b80" stroke-width="2.6" stroke-linejoin="round"/>
<path d="M121.85 1462.12l4 4.1l-4 4.1l-4 -4.1z" fill="#0b0b80"/>
<path d="M155.55 1458.58l4 4.1l-4 4.1l-4 -4.1z" fill="#0b0b80"/>
<path d="M189.25 1458.58l4 4.1l-4 4.1l-4 -4.1z" fill="#0b0b80"/>
<path d="M222.95 1456.81l4 4.1l-4 4.1l-4 -4.1z" fill="#0b0b80"/>
<path d="M256.65 1462.12l4 4.1l-4 4.1l-4 -4.1z" fill="#0b0b80"/>
<path d="M290.35 1465.67l4 4.1l-4 4.1l-4 -4.1z" fill="#0b0b80"/>
<path d="M324.05 1476.30l4 4.1l-4 4.1l-4 -4.1z" fill="#0b0b80"/>
<path d="M357.75 1481.61l4 4.1l-4 4.1l-4 -4.1z" fill="#0b0b80"/>
<path d="M391.45 1481.61l4 4.1l-4 4.1l-4 -4.1z" fill="#0b0b80"/>
<path d="M425.15 1469.21l4 4.1l-4 4.1l-4 -4.1z" fill="#0b0b80"/>
<path d="M458.85 1458.58l4 4.1l-4 4.1l-4 -4.1z" fill="#0b0b80"/>
<path d="M492.55 1455.04l4 4.1l-4 4.1l-4 -4.1z" fill="#0b0b80"/>
<path d="M526.25 1456.81l4 4.1l-4 4.1l-4 -4.1z" fill="#0b0b80"/>
<text x="122.15" y="1458.80" text-anchor="middle" font-family="'Liberation Sans', sans-serif" font-size="10.5" font-weight="bold" fill="#111">-2.5</text>
<text x="155.35" y="1455.00" text-anchor="middle" font-family="'Liberation Sans', sans-serif" font-size="10.5" font-weight="bold" fill="#111">-2.3</text>
<text x="188.35" y="1455.00" text-anchor="middle" font-family="'Liberation Sans', sans-serif" font-size="10.5" font-weight="bold" fill="#111">-2.3</text>
<text x="220.50" y="1453.45" text-anchor="middle" font-family="'Liberation Sans', sans-serif" font-size="10.5" font-weight="bold" fill="#111">-2.2</text>
<text x="257.60" y="1460.00" text-anchor="middle" font-family="'Liberation Sans', sans-serif" font-size="10.5" font-weight="bold" fill="#111">-2.5</text>
<text x="291.80" y="1463.70" text-anchor="middle" font-family="'Liberation Sans', sans-serif" font-size="10.5" font-weight="bold" fill="#111">-2.7</text>
<text x="326.80" y="1475.60" text-anchor="middle" font-family="'Liberation Sans', sans-serif" font-size="10.5" font-weight="bold" fill="#111">-3.3</text>
<text x="358.60" y="1480.60" text-anchor="middle" font-family="'Liberation Sans', sans-serif" font-size="10.5" font-weight="bold" fill="#111">-3.6</text>
<text x="389.55" y="1480.10" text-anchor="middle" font-family="'Liberation Sans', sans-serif" font-size="10.5" font-weight="bold" fill="#111">-3.6</text>
<text x="421.40" y="1468.45" text-anchor="middle" font-family="'Liberation Sans', sans-serif" font-size="10.5" font-weight="bold" fill="#111">-2.9</text>
<text x="458.40" y="1456.95" text-anchor="middle" font-family="'Liberation Sans', sans-serif" font-size="10.5" font-weight="bold" fill="#111">-2.3</text>
<text x="491.70" y="1454.70" text-anchor="middle" font-family="'Liberation Sans', sans-serif" font-size="10.5" font-weight="bold" fill="#111">-2.1</text>
<text x="523.10" y="1455.60" text-anchor="middle" font-family="'Liberation Sans', sans-serif" font-size="10.5" font-weight="bold" fill="#111">-2.2</text>
</svg>
</body></html>
